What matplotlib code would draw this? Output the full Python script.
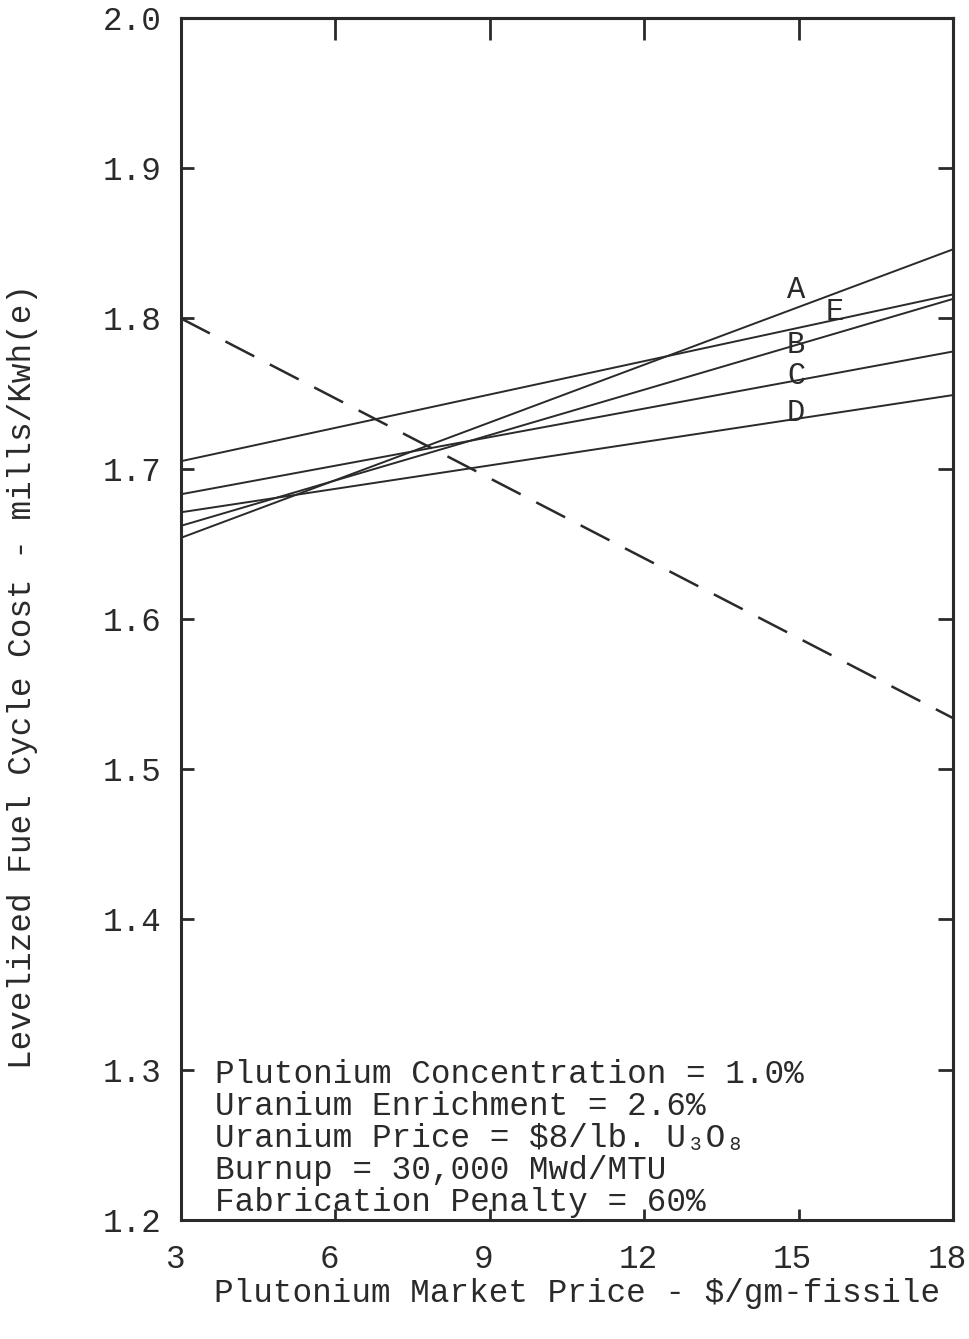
import matplotlib
matplotlib.use("Agg")
import matplotlib.pyplot as plt
import matplotlib.transforms as mtransforms

# Plutonium market price range ($/gm-fissile) at which each cost line is evaluated
price = [3, 18]

# Levelized fuel cycle cost, mills/Kwh(e)
cost_a = [1.654, 1.846]
cost_b = [1.662, 1.813]
cost_c = [1.683, 1.778]
cost_d = [1.671, 1.749]
cost_e = [1.705, 1.816]
cost_dashed = [1.800, 1.534]

series_labels = ["A", "B", "C", "D", "E"]
label_x = [14.95, 14.95, 14.95, 14.95, 15.7]
label_y = [1.819, 1.782, 1.762, 1.737, 1.804]

x_ticks = [3, 6, 9, 12, 15, 18]
y_ticks = [1.2, 1.3, 1.4, 1.5, 1.6, 1.7, 1.8, 1.9, 2.0]

notes = [
    "Plutonium Concentration = 1.0%",
    "Uranium Enrichment = 2.6%",
    "Uranium Price = $8/lb. U\u2083O\u2088",
    "Burnup = 30,000 Mwd/MTU",
    "Fabrication Penalty = 60%",
]

FONT = ["Liberation Mono", "DejaVu Sans Mono"]
INK = "#2a2a2a"
FS = 23.5
plt.rcParams["font.family"] = FONT

fig = plt.figure(figsize=(9.7, 13.39), dpi=100)
ax = fig.add_axes([0.1866, 0.0889, 0.7959, 0.8977])

lw = 1.4
for ys in (cost_a, cost_b, cost_c, cost_d, cost_e):
    ax.plot(price, ys, color=INK, lw=lw, solid_capstyle="butt")
ax.plot(price, cost_dashed, color=INK, lw=1.8, dashes=(13, 7))

for s, lx, ly in zip(series_labels, label_x, label_y):
    ax.text(lx, ly, s, fontsize=22, color=INK, ha="center", va="center")

ax.set_xlim(3, 18)
ax.set_ylim(1.2, 2.0)

ax.set_xticks(x_ticks)
ax.set_xticklabels([str(v) for v in x_ticks])
ax.set_yticks(y_ticks)
ax.set_yticklabels([f"{v:.1f}" for v in y_ticks])
ax.tick_params(axis="x", direction="in", length=8, width=2, pad=17,
               labelsize=FS, colors=INK)
ax.tick_params(axis="y", direction="in", length=9, width=2, pad=14,
               labelsize=FS, colors=INK)

# typed x labels sit slightly left of their tick marks
shift = mtransforms.ScaledTranslation(-6 / 100, 0, fig.dpi_scale_trans)
for lbl in ax.get_xticklabels():
    lbl.set_transform(lbl.get_transform() + shift)

top = ax.secondary_xaxis("top")
top.set_xticks(x_ticks)
top.tick_params(direction="in", length=16, width=2, labeltop=False, colors=INK)
right = ax.secondary_yaxis("right")
right.set_yticks(y_ticks)
right.tick_params(direction="in", length=11, width=2, labelright=False, colors=INK)

for sp in list(ax.spines.values()) + [top.spines["top"], right.spines["right"]]:
    sp.set_linewidth(2.2)
    sp.set_color(INK)

# Parameter block in the lower-left corner
y0 = 1.297
for i, line in enumerate(notes):
    ax.text(3.655, y0 - i * 0.0213, line, fontsize=FS, color=INK,
            ha="left", va="center", family=FONT)

fig.text(0.595, 0.034, "Plutonium Market Price - $/gm-fissile",
         fontsize=FS, color=INK, ha="center", va="center")
fig.text(0.023, 0.4944, "Levelized Fuel Cycle Cost - mills/Kwh(e)",
         fontsize=FS, color=INK, ha="center", va="center", rotation=90)

fig.savefig("out.png", dpi=100, facecolor="white")
